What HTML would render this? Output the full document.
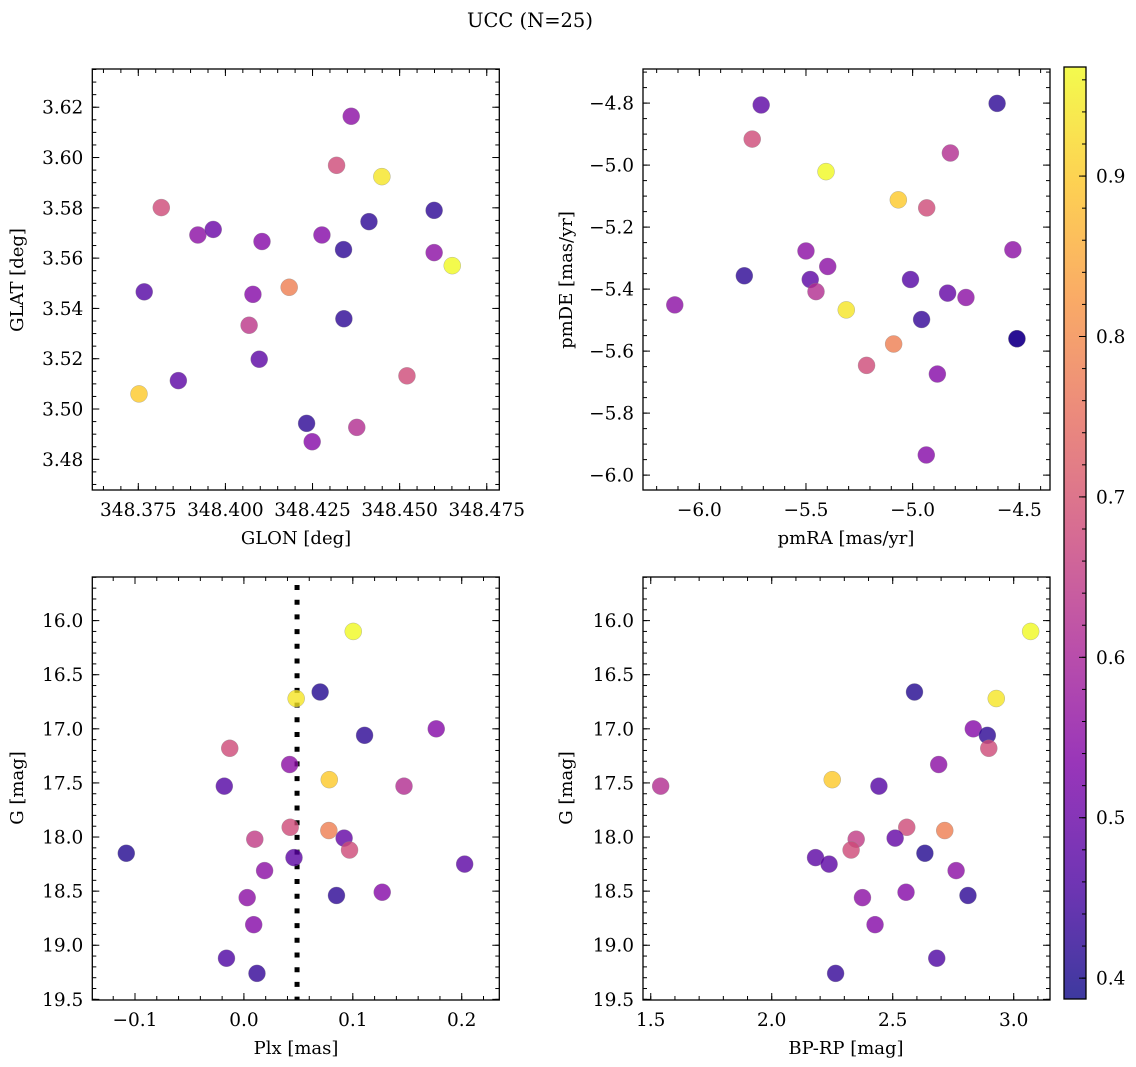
<!DOCTYPE html>
<html><head><meta charset="utf-8">
<style>
html,body{margin:0;padding:0;background:#fff;}
svg{display:block;font-family:"DejaVu Serif","Liberation Serif",serif;}
</style></head>
<body>
<svg id="fig" width="1136" height="1067" viewBox="0 0 1136 1067" xmlns="http://www.w3.org/2000/svg">
<defs>
<linearGradient id="cbgrad" x1="0" y1="1" x2="0" y2="0"></linearGradient>
</defs>
<rect width="1136" height="1067" fill="#fff"/>
<text x="530" y="27" font-size="19.5" text-anchor="middle">UCC (N=25)</text>
<text x="296" y="544" font-size="18" text-anchor="middle">GLON [deg]</text>
<text x="0" y="0" font-size="18" text-anchor="middle" transform="translate(23,280) rotate(-90)">GLAT [deg]</text>
<text x="846" y="544" font-size="18" text-anchor="middle">pmRA [mas/yr]</text>
<text x="0" y="0" font-size="18" text-anchor="middle" transform="translate(572,280) rotate(-90)">pmDE [mas/yr]</text>
<text x="296" y="1054" font-size="18" text-anchor="middle">Plx [mas]</text>
<text x="0" y="0" font-size="18" text-anchor="middle" transform="translate(23,788) rotate(-90)">G [mag]</text>
<text x="846" y="1054" font-size="18" text-anchor="middle">BP-RP [mag]</text>
<text x="0" y="0" font-size="18" text-anchor="middle" transform="translate(572,788) rotate(-90)">G [mag]</text>
<g id="plots"></g>
</svg>
<script>
// ---- data: positions panel ----
const glon = [348.4361,348.4319,348.4449,348.3816,348.4599,348.3921,348.3965,348.4105,348.4277,348.4412,348.4339,348.4599,348.4651,348.3767,348.4183,348.4079,348.4068,348.4340,348.4097,348.4521,348.3865,348.3752,348.4233,348.4377,348.4249];
const glat = [3.6164,3.5969,3.5924,3.5801,3.5790,3.5692,3.5714,3.5666,3.5692,3.5745,3.5634,3.5622,3.5570,3.5466,3.5484,3.5456,3.5333,3.5359,3.5198,3.5132,3.5113,3.5060,3.4943,3.4927,3.4870];
const probPos = [0.55,0.68,0.94,0.68,0.42,0.55,0.50,0.54,0.54,0.42,0.42,0.55,0.968,0.47,0.78,0.54,0.64,0.42,0.48,0.68,0.48,0.90,0.42,0.62,0.54];
// ---- data: proper motion panel ----
const pmra = [-5.710,-4.604,-5.752,-4.823,-5.406,-5.067,-4.934,-5.500,-4.530,-5.398,-5.789,-5.480,-5.010,-5.453,-4.836,-4.750,-6.115,-5.311,-4.958,-4.511,-4.511,-5.089,-5.216,-4.884,-4.936];
const pmde = [-4.806,-4.801,-4.916,-4.961,-5.021,-5.112,-5.138,-5.277,-5.273,-5.327,-5.357,-5.369,-5.369,-5.408,-5.413,-5.427,-5.451,-5.467,-5.498,-5.560,-5.560,-5.577,-5.646,-5.674,-5.935];
const probPM = [0.48,0.42,0.68,0.62,0.968,0.90,0.68,0.55,0.55,0.55,0.42,0.48,0.47,0.62,0.49,0.55,0.55,0.94,0.43,0.41,0.41,0.78,0.68,0.54,0.54];
// ---- data: photometry panels ----
const gmag = [16.10,16.66,16.72,17.00,17.06,17.18,17.33,17.47,17.53,17.53,17.91,17.94,18.01,18.02,18.12,18.15,18.19,18.25,18.31,18.51,18.54,18.56,18.81,19.12,19.26];
const plx = [0.1004,0.070,0.048,0.1766,0.1108,-0.013,0.042,0.0784,-0.018,0.147,0.0425,0.078,0.092,0.010,0.097,-0.108,0.046,0.2027,0.019,0.127,0.085,0.003,0.009,-0.016,0.012];
const bprp = [3.070,2.590,2.928,2.833,2.891,2.897,2.690,2.250,2.443,1.541,2.558,2.715,2.510,2.349,2.328,2.633,2.181,2.237,2.762,2.555,2.811,2.375,2.427,2.682,2.264];
const probPhot = [0.968,0.41,0.94,0.54,0.42,0.68,0.55,0.90,0.47,0.62,0.68,0.78,0.49,0.65,0.68,0.41,0.48,0.48,0.55,0.54,0.42,0.55,0.54,0.46,0.43];
const plxLine = [0.0488];
const cbTicks = [0.4,0.5,0.6,0.7,0.8,0.9];
const cbRange = [0.387,0.968];

const NS = "http://www.w3.org/2000/svg";
const root = document.getElementById('plots');
const TICKFS = 18.5;
function mk(tag, attrs, parent){ const e=document.createElementNS(NS,tag); for(const k in attrs) e.setAttribute(k,attrs[k]); (parent||root).appendChild(e); return e; }
function lin(d0,d1,p0,p1){ return v=>p0+(v-d0)*(p1-p0)/(d1-d0); }

const plasmaStops = [[0,13,8,135],[0.125,76,2,161],[0.25,126,3,168],[0.375,169,35,149],[0.5,204,71,120],[0.625,230,108,92],[0.75,248,149,64],[0.875,253,197,39],[1,240,249,33]];
function plasma(t){
  t=Math.max(0,Math.min(1,t));
  for(let i=1;i<plasmaStops.length;i++){
    const a=plasmaStops[i-1], b=plasmaStops[i];
    if(t<=b[0]){ const f=(t-a[0])/(b[0]-a[0]); return `rgb(${Math.round(a[1]+f*(b[1]-a[1]))},${Math.round(a[2]+f*(b[2]-a[2]))},${Math.round(a[3]+f*(b[3]-a[3]))})`; }
  }
  return 'rgb(240,249,33)';
}
const norm = v => (v-cbRange[0])/(cbRange[1]-cbRange[0]);

function fmtNum(v,d){ const s=Math.abs(v).toFixed(d); return (v< -1e-9?'\u2212':'')+s; }

function panel(cfg){
  const g = mk('g',{});
  
  
  const {x0,x1,y0,y1}=cfg.frame;
  const xs=lin(cfg.xlim[0],cfg.xlim[1],x0,x1);
  const ys=lin(cfg.ylim[0],cfg.ylim[1],y0,y1);
  const tg = mk('g',{stroke:'#000','stroke-width':1},g);
  function ticksFor(lo,hi,step){ const out=[]; const s=Math.ceil(Math.min(lo,hi)/step-1e-6); const e=Math.floor(Math.max(lo,hi)/step+1e-6); for(let i=s;i<=e;i++) out.push(+(i*step).toFixed(6)); return out; }
  ticksFor(cfg.xlim[0],cfg.xlim[1],cfg.xMinor).forEach(v=>{ const x=xs(v); mk('line',{x1:x,x2:x,y1:y1,y2:y1-4},tg); mk('line',{x1:x,x2:x,y1:y0,y2:y0+4},tg); });
  ticksFor(cfg.ylim[0],cfg.ylim[1],cfg.yMinor).forEach(v=>{ const y=ys(v); mk('line',{x1:x0,x2:x0+4,y1:y,y2:y},tg); mk('line',{x1:x1,x2:x1-4,y1:y,y2:y},tg); });
  ticksFor(cfg.xlim[0],cfg.xlim[1],cfg.xMajor).forEach(v=>{
    const x=xs(v); mk('line',{x1:x,x2:x,y1:y1,y2:y1-7},tg); mk('line',{x1:x,x2:x,y1:y0,y2:y0+7},tg);
    const t=mk('text',{x:x,y:y1+26,'font-size':TICKFS,'text-anchor':'middle'},g); t.textContent=fmtNum(v,cfg.xDec);
    
    
  });
  ticksFor(cfg.ylim[0],cfg.ylim[1],cfg.yMajor).forEach(v=>{
    const y=ys(v); mk('line',{x1:x0,x2:x0+7,y1:y,y2:y},tg); mk('line',{x1:x1,x2:x1-7,y1:y,y2:y},tg);
    const t=mk('text',{x:x0-9,y:y+6.5,'font-size':TICKFS,'text-anchor':'end'},g); t.textContent=fmtNum(v,cfg.yDec);
    
    
  });
  if(cfg.vline){
    cfg.vline.forEach(v=>{
      const l=mk('line',{x1:xs(v),x2:xs(v),y1:y0+8,y2:y1,stroke:'#000','stroke-width':5,'stroke-dasharray':'5 9.7'},g);
      
      
    });
  }
  cfg.xv.forEach((xv,i)=>{
    const c=mk('circle',{cx:xs(xv),cy:ys(cfg.yv[i]),r:8.5,fill:plasma(norm(cfg.cv[i])),'fill-opacity':0.8,stroke:'#888','stroke-opacity':0.6,'stroke-width':0.5},g);
    
    
  });
  const fr=mk('rect',{x:x0,y:y0,width:x1-x0,height:y1-y0,fill:'none',stroke:'#000','stroke-width':1.3},g);
  
  
}

panel({name:'glon-glat-panel',frame:{x0:92.3,x1:499.3,y0:69,y1:490},xlim:[348.3618,348.4786],ylim:[3.6352,3.4678],
  xMajor:0.025,xMinor:0.005,yMajor:0.02,yMinor:0.005,xDec:3,yDec:2,xv:glon,yv:glat,cv:probPos});
panel({name:'pm-panel',frame:{x0:643,x1:1050,y0:69,y1:490},xlim:[-6.264,-4.356],ylim:[-4.690,-6.048],
  xMajor:0.5,xMinor:0.1,yMajor:0.2,yMinor:0.05,xDec:1,yDec:1,xv:pmra,yv:pmde,cv:probPM});
panel({name:'plx-g-panel',frame:{x0:92.3,x1:499.3,y0:577,y1:1000},xlim:[-0.1392,0.2345],ylim:[15.597,19.506],
  xMajor:0.1,xMinor:0.02,yMajor:0.5,yMinor:0.1,xDec:1,yDec:1,xv:plx,yv:gmag,cv:probPhot,vline:plxLine});
panel({name:'cmd-panel',frame:{x0:643,x1:1050,y0:577,y1:1000},xlim:[1.468,3.150],ylim:[15.597,19.506],
  xMajor:0.5,xMinor:0.1,yMajor:0.5,yMinor:0.1,xDec:1,yDec:1,xv:bprp,yv:gmag,cv:probPhot});

(function(){
  const grad=document.getElementById('cbgrad');
  for(let i=0;i<=16;i++){ const s=document.createElementNS(NS,'stop'); s.setAttribute('offset',(i/16)); s.setAttribute('stop-color',plasma(i/16)); s.setAttribute('stop-opacity',0.8); grad.appendChild(s); }
  const cx0=1064, cx1=1086, cy0=67, cy1=999;
  const ys=lin(cbRange[0],cbRange[1],cy1,cy0);
  const g=mk('g',{});
  
  
  mk('rect',{x:cx0,y:cy0,width:cx1-cx0,height:cy1-cy0,fill:'url(#cbgrad)'},g);
  for(let v=0.40; v<=cbRange[1]+1e-9; v+=0.02){ const y=ys(v); mk('line',{x1:cx1,x2:cx1-4,y1:y,y2:y,stroke:'#000','stroke-width':1},g); }
  cbTicks.forEach(v=>{
    const y=ys(v); mk('line',{x1:cx1,x2:cx1-7,y1:y,y2:y,stroke:'#000','stroke-width':1},g);
    const t=mk('text',{x:cx1+10,y:y+6.5,'font-size':TICKFS},g); t.textContent=v.toFixed(1);
    
    
  });
  mk('rect',{x:cx0,y:cy0,width:cx1-cx0,height:cy1-cy0,fill:'none',stroke:'#000','stroke-width':1.3},g);
})();
</script>
</body></html>
